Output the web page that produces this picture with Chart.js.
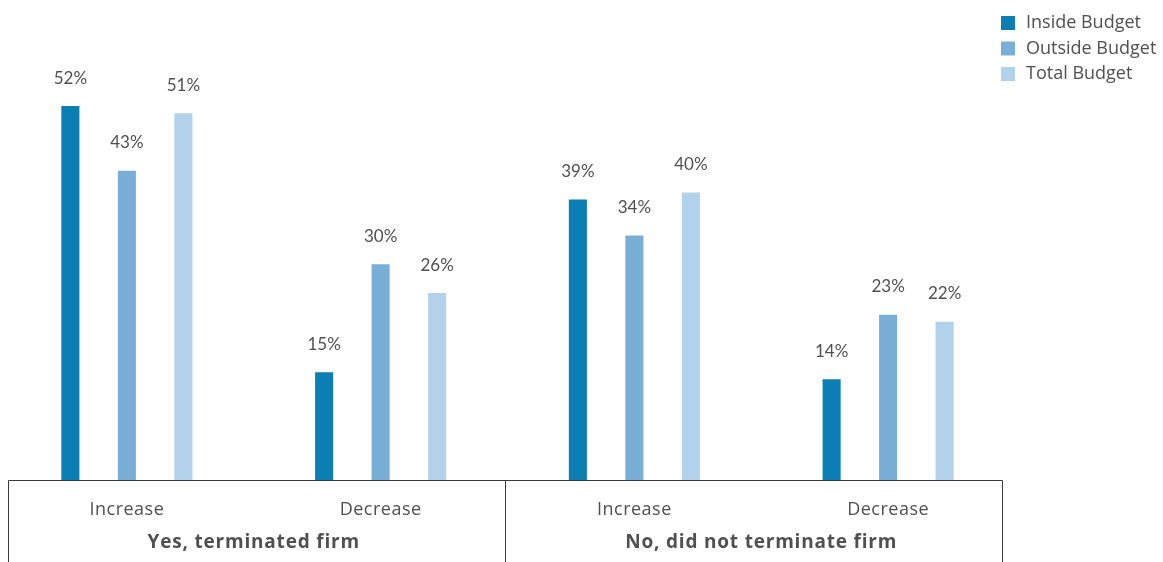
<!DOCTYPE html>
<html>
<head>
<meta charset="utf-8">
<script src="https://cdn.jsdelivr.net/npm/chart.js@4/dist/chart.umd.min.js"></script>
<style>
  html, body { margin: 0; padding: 0; background: #ffffff; }
  #wrap { width: 1163px; height: 562px; position: relative; }
</style>
</head>
<body>
<div id="wrap"><canvas id="chart"></canvas></div>
<script>
// Budget change by whether the firm was terminated
const categories = ['Increase', 'Decrease', 'Increase', 'Decrease'];
const groups = ['Yes, terminated firm', 'No, did not terminate firm'];
const seriesNames = ['Inside Budget', 'Outside Budget', 'Total Budget'];
const insideBudget = [52, 15, 39, 14];
const outsideBudget = [43, 30, 34, 23];
const totalBudget = [51, 26, 40, 22];
const seriesColors = ['#0b7fb3', '#79afd6', '#b2d1ea'];

const VALUE_FONT = 'Lato, "Open Sans", sans-serif';
const FONT = '"Open Sans", Lato, sans-serif';
const TEXT = '#505050';

// Value labels, category labels, framed group headers and legend
const decorations = {
  id: 'decorations',
  afterDatasetsDraw(chart) {
    const ctx = chart.ctx;
    const area = chart.chartArea;
    const x = chart.scales.x;
    ctx.save();

    // value labels above each bar
    ctx.fillStyle = TEXT;
    ctx.font = '17px ' + VALUE_FONT;
    ctx.textAlign = 'center';
    ctx.textBaseline = 'middle';
    chart.data.datasets.forEach((ds, di) => {
      chart.getDatasetMeta(di).data.forEach((bar, i) => {
        ctx.fillText(ds.data[i] + '%', bar.x, bar.y - 28);
      });
    });

    // frame under the plot
    const left = area.left + 8, right = area.right - 13, mid = (left + right) / 2;
    const base = area.bottom;
    ctx.strokeStyle = '#3a3a3a';
    ctx.lineWidth = 1;
    ctx.beginPath();
    ctx.moveTo(left + 0.5, chart.height);
    ctx.lineTo(left + 0.5, base + 0.5);
    ctx.lineTo(right + 0.5, base + 0.5);
    ctx.lineTo(right + 0.5, chart.height);
    ctx.moveTo(mid + 0.5, base);
    ctx.lineTo(mid + 0.5, chart.height);
    ctx.stroke();

    // category labels
    ctx.font = '18px ' + FONT;
    ctx.letterSpacing = '0.5px';
    categories.forEach((c, i) => {
      ctx.fillText(c, x.getPixelForValue(i), base + 30);
    });

    // group labels
    ctx.font = 'bold 19px ' + FONT;
    ctx.letterSpacing = '0.8px';
    groups.forEach((g, gi) => {
      const cx = (x.getPixelForValue(gi * 2) + x.getPixelForValue(gi * 2 + 1)) / 2;
      ctx.fillText(g, cx, base + 63);
    });
    ctx.letterSpacing = '0px';

    // legend
    ctx.textAlign = 'left';
    ctx.font = '18px ' + FONT;
    chart.data.datasets.forEach((ds, di) => {
      const y = 23 + di * 25.5;
      ctx.fillStyle = ds.backgroundColor;
      ctx.fillRect(1001, y - 7, 14, 14);
      ctx.fillStyle = TEXT;
      ctx.fillText(ds.label, 1026, y);
    });
    ctx.restore();
  }
};

new Chart(document.getElementById('chart'), {
  type: 'bar',
  data: {
    labels: categories,
    datasets: [
      { label: seriesNames[0], data: insideBudget, backgroundColor: seriesColors[0] },
      { label: seriesNames[1], data: outsideBudget, backgroundColor: seriesColors[1] },
      { label: seriesNames[2], data: totalBudget, backgroundColor: seriesColors[2] }
    ]
  },
  options: {
    responsive: true,
    maintainAspectRatio: false,
    animation: false,
    layout: { padding: { left: 0, right: 148, top: 48.6, bottom: 82 } },
    datasets: { bar: { categoryPercentage: 0.668, barPercentage: 0.32 } },
    scales: {
      x: { display: false },
      y: { display: false, min: 0, max: 60 }
    },
    plugins: { legend: { display: false }, tooltip: { enabled: false } }
  },
  plugins: [decorations]
});
</script>
</body>
</html>
